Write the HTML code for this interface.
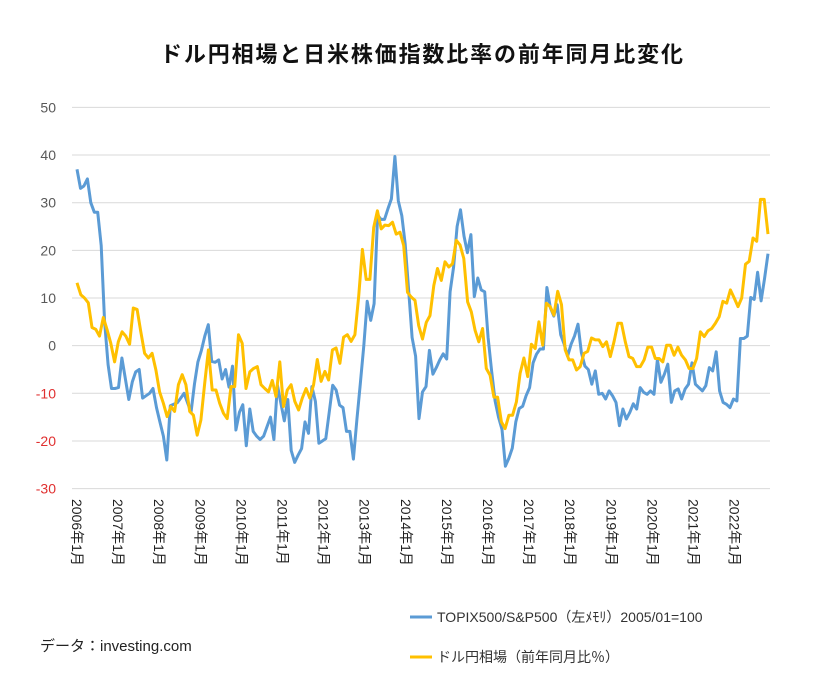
<!DOCTYPE html>
<html><head><meta charset="utf-8"><style>
body{margin:0;background:#fff;}
svg{display:block;font-family:"Liberation Sans","Noto Sans CJK JP",sans-serif;}
</style></head><body>
<svg id="chart" width="828" height="683" viewBox="0 0 828 683" xmlns="http://www.w3.org/2000/svg">
<rect width="828" height="683" fill="#fff"/>
<text x="160" y="62" font-size="22" font-weight="bold" fill="#111" textLength="523" font-family="'Noto Sans CJK JP',sans-serif">ドル円相場と日米株価指数比率の前年同月比変化</text>
<g id="grid"></g><g id="yticks"></g><g id="xticks"></g><g id="series"></g>
<g>
<line x1="410" y1="617" x2="432" y2="617" stroke="#5b9bd5" stroke-width="3"/>
<text x="437" y="622" font-size="14" fill="#333">TOPIX500/S&amp;P500（左ﾒﾓﾘ）2005/01=100</text>
<line x1="410" y1="657" x2="432" y2="657" stroke="#ffc000" stroke-width="3"/>
<text x="437" y="662" font-size="14" fill="#333">ドル円相場（前年同月比％）</text>
</g>
<text x="40" y="651" font-size="15" fill="#222">データ：investing.com</text>
</svg>
<script>
const yTicks=[50,40,30,20,10,0,-10,-20,-30];
const xLabels=["2006年1月","2007年1月","2008年1月","2009年1月","2010年1月","2011年1月","2012年1月","2013年1月","2014年1月","2015年1月","2016年1月","2017年1月","2018年1月","2019年1月","2020年1月","2021年1月","2022年1月"];
const topix=[37,33,33.5,35,30,28,28,21,5,-4,-9,-9,-8.8,-2.6,-7,-11.3,-7.6,-5.5,-5,-11,-10.5,-10,-9,-13,-16,-19,-24,-12.6,-12.3,-12,-11,-10,-12,-14,-8,-3.4,-1,2,4.4,-3.3,-3.5,-3,-7,-5,-8.7,-4.3,-17.7,-14,-12.4,-21,-13.3,-18,-19,-19.7,-19,-17,-15,-19.7,-8.3,-12,-15.8,-11.3,-22,-24.5,-23,-21.6,-16,-18.4,-8.6,-11.7,-20.5,-20,-19.5,-14,-8.3,-9.3,-12.5,-13,-18,-18,-23.8,-15.5,-8,0,9.3,5.3,8.8,27.4,26.5,26.5,28.7,30.8,39.7,30.4,27.3,21.3,11.5,1.7,-2.2,-15.3,-9.7,-8.6,-1,-6,-4.6,-3,-1.7,-2.8,11.3,16.5,25,28.5,23,19.5,23.3,10.3,14.2,11.7,11.3,1.7,-5.3,-11.6,-15,-17.6,-25.3,-23.6,-21.5,-16,-13.2,-12.7,-10.5,-8.8,-3.6,-1.8,-0.7,-0.7,12.2,8,6.2,8.6,2.3,0.3,-2.2,0.3,2,4.5,-1.5,-4.3,-5,-8.1,-5.3,-10.2,-10,-11.2,-9.5,-10.5,-11.9,-16.8,-13.3,-15.4,-14,-12.2,-13.3,-8.8,-9.8,-10.2,-9.5,-10.2,-2.9,-7.7,-6,-3.9,-11.9,-9.5,-9.1,-11.2,-9.1,-8.1,-3.6,-8.1,-8.8,-9.5,-8.4,-4.6,-5.3,-1.3,-9.5,-11.9,-12.3,-13,-11.2,-11.6,1.5,1.5,2,10.1,9.7,15.4,9.4,14,19.3];
const usdjpy=[13.2,10.7,10,9,3.8,3.4,2,5.9,3.4,0.5,-3.4,0.8,2.9,2,0.3,7.9,7.6,2.9,-1.6,-2.6,-1.6,-5.1,-9.7,-12.1,-14.9,-12.8,-13.8,-8.2,-6.1,-8.2,-13.8,-14.6,-18.8,-15.6,-7.9,-0.9,-9.3,-9.3,-12.1,-14.2,-15.3,-8.6,-8.6,2.3,0.5,-9,-5.5,-4.8,-4.4,-8.2,-9,-9.7,-7.3,-10.7,-3.4,-12.8,-9.3,-8.2,-11.7,-13.5,-11,-9,-11,-8.2,-2.9,-7.5,-5.4,-7.2,-0.9,-0.5,-3.7,1.8,2.3,0.9,2.3,10.4,20.2,13.9,13.9,24.8,28.3,24.5,25.3,25.2,25.9,23.4,23.8,21,11.2,10.2,9.5,4.2,1.4,4.9,6.3,12.6,16.2,13.7,17.6,16.5,17.2,22.1,21.1,18.3,9.2,7.1,3.2,0.8,3.6,-4.8,-6.2,-10.8,-10.8,-16,-17.4,-14.6,-14.6,-11.8,-5.8,-2.6,-6.5,0.3,-0.6,5,0.1,8.9,8.2,6.4,11.4,8.6,-0.9,-3,-3,-5.1,-4.4,-1.6,-1.2,1.6,1.2,1.2,-0.2,0.8,-2.3,0.8,4.7,4.7,0.8,-2.3,-2.7,-4.4,-4.4,-3,-0.3,-0.3,-2.7,-2.7,-3.4,0.1,0.1,-2,-0.3,-2,-3,-4.8,-4.8,-2.7,2.9,1.9,3.1,3.6,4.7,6.1,9.3,8.9,11.7,10,8.2,10,17.1,17.7,22.6,21.9,30.7,30.7,23.4];

const NS="http://www.w3.org/2000/svg";
const X0=77,X1=768,Y50=107.4,Y_30=488.6;
function yScale(v){return Y50+(50-v)*(Y_30-Y50)/80;}
function xScale(i,n){return X0+i*(X1-X0)/(n-1);}
function xLabelPos(k){return X0+k*41.1;}
function mk(tag,attrs,parent){const e=document.createElementNS(NS,tag);for(const k in attrs)e.setAttribute(k,attrs[k]);parent.appendChild(e);return e;}
const grid=document.getElementById('grid'),yt=document.getElementById('yticks'),xt=document.getElementById('xticks'),sg=document.getElementById('series');
yTicks.forEach(v=>{
  const l=mk('line',{x1:72,x2:770,y1:yScale(v),y2:yScale(v),stroke:'#d9d9d9','stroke-width':1},grid);
  
  
  const t=mk('text',{x:56,y:yScale(v)+5,'text-anchor':'end','font-size':14,fill:v<0?'#e03030':'#595959'},yt);
  t.textContent=v;
  
  
});
xLabels.forEach((s,k)=>{
  const x=xLabelPos(k);
  const t=mk('text',{x:0,y:0,'font-size':14,fill:'#222',transform:`translate(${x-5},499) rotate(90)`},xt);
  t.textContent=s;
  
  
});
function drawLine(arr,color,name){
  const d=arr.map((v,i)=>(i?'L':'M')+xScale(i,arr.length).toFixed(1)+','+yScale(v).toFixed(1)).join('');
  const p=mk('path',{d:d,fill:'none',stroke:color,'stroke-width':3,'stroke-linejoin':'round'},sg);
  
  
}
drawLine(topix,'#5b9bd5','topix-line');
drawLine(usdjpy,'#ffc000','usdjpy-line');
</script>
</body></html>
